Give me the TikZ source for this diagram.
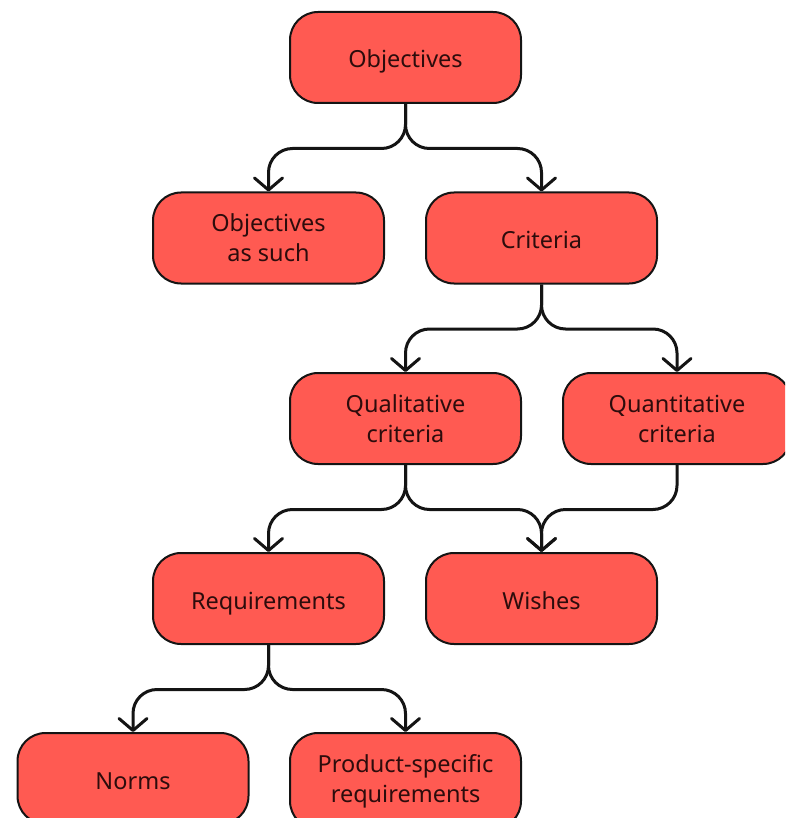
\documentclass[tikz,border=0pt]{standalone}
\usepackage{fontspec}
\setmainfont{Noto Sans}
\usetikzlibrary{arrows.meta}
\definecolor{boxred}{RGB}{255,90,82}
\definecolor{ink}{RGB}{45,12,12}
\definecolor{edge}{RGB}{20,20,20}
\begin{document}
\begin{tikzpicture}[x=1pt,y=-1pt,
  box/.style={draw=edge, line width=2pt, fill=boxred, rounded corners=28pt,
    minimum width=231pt, minimum height=91pt, align=center, inner sep=0pt,
    font=\fontsize{23.5}{30}\selectfont, text=ink},
  oneline/.style={text height=21pt, text depth=0pt},
  conn/.style={draw=edge, line width=3pt, rounded corners=24pt,
    -{Straight Barb[length=12pt,width=28pt,round]}}]
\useasboundingbox (0,0) rectangle (785,818);
\clip (0,0) rectangle (785,818);

% nodes
\node[box, oneline] (obj)   at (405.5,57.5)  {Objectives};
\node[box] (such)  at (268.5,238)   {Objectives\\as such};
\node[box, oneline] (crit)  at (541.5,238)   {Criteria};
\node[box] (qual)  at (405.5,418.5) {Qualitative\\criteria};
\node[box, minimum width=228pt] (quant) at (677,418.5) {Quantitative\\criteria};
\node[box, oneline] (req)   at (268.5,598.5) {Requirements};
\node[box, oneline] (wish)  at (541.5,598.5) {Wishes};
\node[box, oneline] (norms) at (133,778.5)   {Norms};
\node[box, minimum height=96pt] (prod)  at (405.5,781) {Product-specific\\requirements};

% connectors
\draw[conn] (obj.south)   -- ++(0,44.5) -| (such.north);
\draw[conn] (obj.south)   -- ++(0,44.5) -| (crit.north);
\draw[conn] (crit.south)  -- ++(0,44.5) -| (qual.north);
\draw[conn] (crit.south)  -- ++(0,44.5) -| (quant.north);
\draw[conn] (qual.south)  -- ++(0,44.5) -| (req.north);
\draw[conn] (qual.south)  -- ++(0,44.5) -| (wish.north);
\draw[conn] (quant.south) -- ++(0,44.5) -| (wish.north);
\draw[conn] (req.south)   -- ++(0,44.5) -| (norms.north);
\draw[conn] (req.south)   -- ++(0,44.5) -| (prod.north);
\end{tikzpicture}
\end{document}
